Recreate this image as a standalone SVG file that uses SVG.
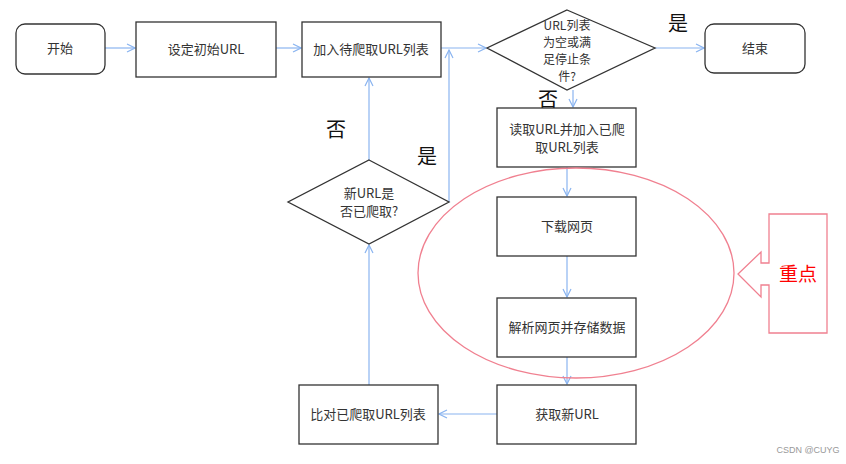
<svg xmlns="http://www.w3.org/2000/svg" width="846" height="464" viewBox="0 0 846 464">
<style>
.n{fill:#fff;stroke:#333;stroke-width:1.3}
.t{font-family:"Noto Sans CJK SC",sans-serif;font-size:13px;fill:#333;text-anchor:middle}
.s{font-family:"Noto Sans CJK SC",sans-serif;font-size:12px;fill:#333;text-anchor:middle}
.b{font-family:"Noto Sans CJK SC",sans-serif;font-size:20px;fill:#111;text-anchor:middle}
.c{fill:none;stroke:#8ab4f0;stroke-width:1.2}
</style>
<defs><marker id="a" markerWidth="10" markerHeight="10" refX="9" refY="5" orient="auto" markerUnits="userSpaceOnUse"><path d="M1,1 L9,5 L1,9" fill="none" stroke="#8ab4f0" stroke-width="1.2"/></marker></defs>
<rect width="846" height="464" fill="#fff"/>
<g id="connectors">
<path class="c" d="M105,48 H135" marker-end="url(#a)"/>
<path class="c" d="M276,48 H301" marker-end="url(#a)"/>
<path class="c" d="M441,48 H486" marker-end="url(#a)"/>
<path class="c" d="M655,48 H704" marker-end="url(#a)"/>
<path class="c" d="M573,90 V107" marker-end="url(#a)"/>
<path class="c" d="M567,167 V196" marker-end="url(#a)"/>
<path class="c" d="M567,256 V297" marker-end="url(#a)"/>
<path class="c" d="M567,357 V384" marker-end="url(#a)"/>
<path class="c" d="M497,414 H439" marker-end="url(#a)"/>
<path class="c" d="M369,385 V245" marker-end="url(#a)"/>
<path class="c" d="M369,160 V78" marker-end="url(#a)"/>
<path class="c" d="M449,202 V50" marker-end="url(#a)"/>
</g>
<g id="start"><rect class="n" x="16" y="24" width="89" height="50" rx="9"/><text class="t" x="60" y="53">开始</text></g>
<g id="init"><rect class="n" x="136" y="22" width="140" height="55"/><text class="t" x="206" y="54">设定初始URL</text></g>
<g id="add"><rect class="n" x="302" y="22" width="139" height="55"/><text class="t" x="371" y="54">加入待爬取URL列表</text></g>
<g id="check"><polygon class="n" points="567,10 655,48 567,90 487,48"/><text class="s" x="567" y="30">URL列表</text><text class="s" x="567" y="47">为空或满</text><text class="s" x="567" y="64">足停止条</text><text class="s" x="567" y="81">件?</text></g>
<g id="end"><rect class="n" x="705" y="24" width="100" height="49" rx="9"/><text class="t" x="755" y="53">结束</text></g>
<text class="b" x="678" y="31">是</text>
<text class="b" x="548" y="107">否</text>
<g id="read"><rect class="n" x="497" y="108" width="139" height="59"/><text class="t" x="567" y="134">读取URL并加入已爬</text><text class="t" x="567" y="152">取URL列表</text></g>
<g id="download"><rect class="n" x="497" y="197" width="139" height="59"/><text class="t" x="567" y="231">下载网页</text></g>
<g id="parse"><rect class="n" x="497" y="298" width="139" height="59"/><text class="t" x="567" y="332">解析网页并存储数据</text></g>
<g id="getnew"><rect class="n" x="497" y="385" width="139" height="59"/><text class="t" x="567" y="419">获取新URL</text></g>
<g id="compare"><rect class="n" x="299" y="385" width="139" height="59"/><text class="t" x="368" y="419">比对已爬取URL列表</text></g>
<g id="crawled"><polygon class="n" points="369,160 449,202 369,244 288,202"/><text class="t" x="369" y="198">新URL是</text><text class="t" x="369" y="216">否已爬取?</text></g>
<text class="b" x="336" y="137">否</text>
<text class="b" x="427" y="164">是</text>
<ellipse cx="576" cy="273" rx="158" ry="105" fill="none" stroke="#f08090" stroke-width="1.3"/>
<g id="focus"><path d="M769,214 H827 V333 H769 V285 H761 V297 L738,274 L761,252 V263 H769 Z" fill="#fff" stroke="#f08090" stroke-width="1.3"/><text x="798" y="281" font-family="Noto Sans CJK SC,sans-serif" font-size="19" fill="#f00" text-anchor="middle">重点</text></g>
<text x="808" y="453" font-family="Liberation Sans,sans-serif" font-size="9" fill="#999" text-anchor="middle">CSDN @CUYG</text>
</svg>
